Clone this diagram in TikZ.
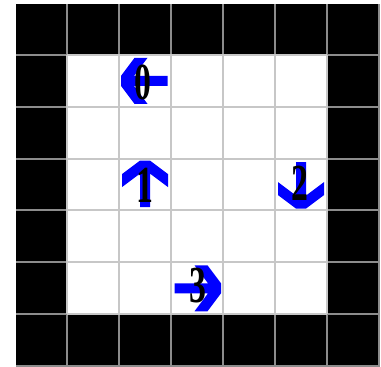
\documentclass[tikz,border=0pt]{standalone}
\usepackage{fontspec}
\setmainfont{Liberation Serif}
\begin{document}
\begin{tikzpicture}[x=1pt,y=-1pt,
  darkline/.style={draw=black!45,line width=2pt},
  lightline/.style={draw=black!22,line width=2pt},
  digit/.style={font=\fontsize{52}{52}\selectfont\bfseries,text=black,inner sep=0pt,xscale=0.65},
  robotarrow/.pic={\fill[blue] (-5,22.5) -- (5,22.5) -- (5,-11) -- (23,2.5) -- (23,-10.5) -- (5,-24) -- (-5,-24) -- (-23,-10.5) -- (-23,2.5) -- (-5,-11) -- cycle;}]
\useasboundingbox (0,0) rectangle (381,367);
\def\ch{51.857}
% board
\fill[black] (16,4) rectangle (380,367);
\fill[white] (68,{4+\ch}) rectangle (328,{4+6*\ch});
% grid lines
\foreach \i in {1,...,7}{
  \draw[darkline] ({16+52*\i-1},4) -- ({16+52*\i-1},367);
  \draw[darkline] (16,{4+\ch*\i-1}) -- (380,{4+\ch*\i-1});
}
\foreach \i in {1,...,6}{
  \draw[lightline] ({16+52*\i-1},{4+\ch-1}) -- ({16+52*\i-1},{4+6*\ch-1});
  \draw[lightline] (67,{4+\ch*\i-1}) -- (327,{4+\ch*\i-1});
}
% arrows
\pic[rotate=90] at (145,80.9) {robotarrow};
\pic at (145,184.6) {robotarrow};
\pic[rotate=180] at (301,184.6) {robotarrow};
\pic[rotate=-90] at (197,288.3) {robotarrow};
% labels
\node[digit] (n0) at (143,82) {0};
\node[digit] (n1) at (145,185) {1};
\node[digit] (n2) at (300,183) {2};
\node[digit] (n3) at (198,286) {3};
\end{tikzpicture}
\end{document}
